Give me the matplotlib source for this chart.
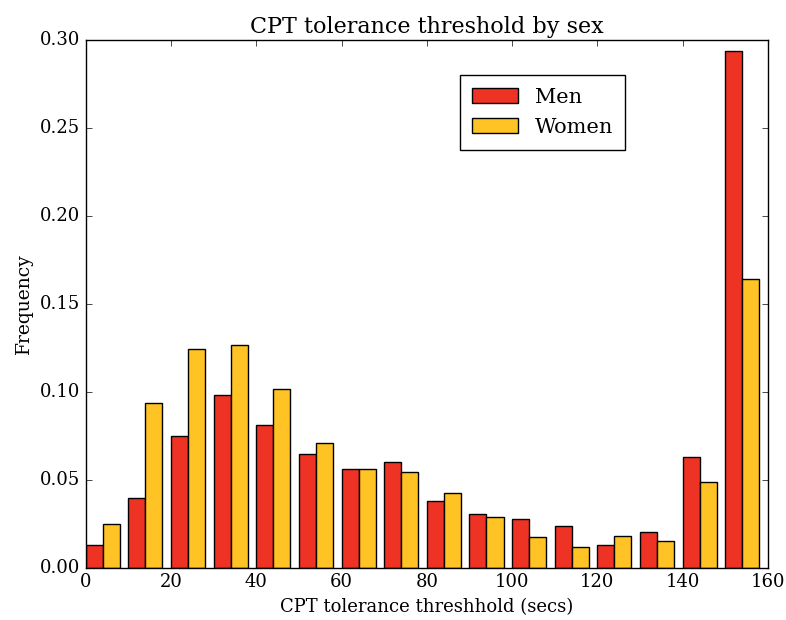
import matplotlib
matplotlib.use("Agg")
import matplotlib.pyplot as plt
import numpy as np

# bin edges (secs) and fraction of each group per bin
bin_edges = np.arange(0, 170, 10)
men = [0.0128, 0.0400, 0.0751, 0.0985, 0.0811, 0.0649, 0.0560, 0.0604,
       0.0381, 0.0308, 0.0279, 0.0236, 0.0130, 0.0206, 0.0630, 0.2938]
women = [0.0249, 0.0936, 0.1242, 0.1268, 0.1019, 0.0711, 0.0560, 0.0543,
         0.0425, 0.0292, 0.0175, 0.0119, 0.0179, 0.0151, 0.0487, 0.1642]

plt.style.use('classic')
plt.rcParams['font.family'] = 'serif'
plt.rcParams['font.serif'] = ['DejaVu Serif']

fig = plt.figure(figsize=(7.86, 6.2), dpi=100, facecolor='white')
ax = fig.add_axes([0.109, 0.084, 0.868, 0.851])

left = bin_edges[:-1]
bw = 4
ax.bar(left, men, width=bw, align='edge', color='#EE3224',
       edgecolor='black', linewidth=1, label='Men')
ax.bar(left + bw, women, width=bw, align='edge', color='#FFC325',
       edgecolor='black', linewidth=1, label='Women')

ax.set_xlim(0, 160)
ax.set_ylim(0, 0.30)
ax.set_yticks(np.arange(0, 0.31, 0.05))
ax.set_yticklabels(['%.2f' % v for v in np.arange(0, 0.31, 0.05)])
ax.tick_params(labelsize=13)

ax.set_title('CPT tolerance threshold by sex', fontsize=16)
ax.set_xlabel('CPT tolerance threshhold (secs)', fontsize=13)
ax.set_ylabel('Frequency', fontsize=13.5)

ax.legend(loc='upper left', bbox_to_anchor=(0.548, 0.934), fontsize=15,
          borderaxespad=0, fancybox=False, shadow=False,
          handlelength=2.2, handleheight=0.75, labelspacing=0.55,
          borderpad=0.6)

fig.savefig('out.png', dpi=100, facecolor='white')
